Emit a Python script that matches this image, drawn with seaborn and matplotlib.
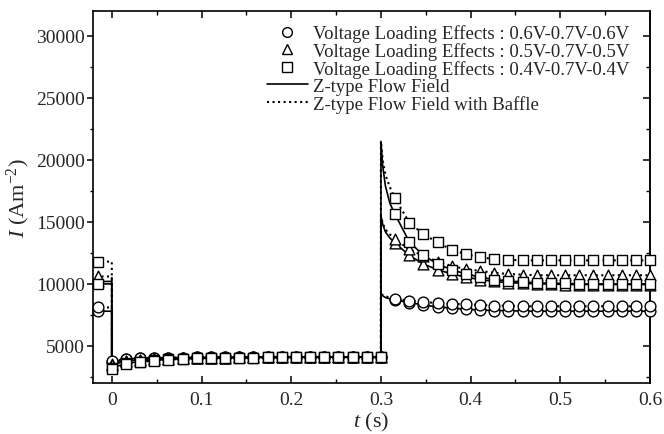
import numpy as np
import pandas as pd
import seaborn as sns
import matplotlib.pyplot as plt
from matplotlib.lines import Line2D
from matplotlib.ticker import FixedLocator, FuncFormatter

# style
sns.set_theme(style="white")
plt.rcParams['font.family'] = ['Liberation Serif', 'DejaVu Serif']
plt.rcParams['mathtext.fontset'] = 'custom'
plt.rcParams['mathtext.rm'] = 'Liberation Serif'
plt.rcParams['mathtext.it'] = 'Liberation Serif:italic'

# time grids (s)
t_pre = [-0.03, -0.0158, 0.0]
t_left = [0.0, 0.0158, 0.0316, 0.0474, 0.0632, 0.0789, 0.0947, 0.1105, 0.1263, 0.1421,
          0.1579, 0.1737, 0.1895, 0.2053, 0.2211, 0.2368, 0.2526, 0.2684, 0.2842, 0.3]
t_peak = [0.3, 0.302, 0.305, 0.31]
t_right = [0.3158, 0.3316, 0.3474, 0.3632, 0.3789, 0.3947, 0.4105, 0.4263, 0.4421, 0.4579,
           0.4737, 0.4895, 0.5053, 0.5211, 0.5368, 0.5526, 0.5684, 0.5842, 0.6]

# current density (A m^-2), s = Z-type flow field, d = with baffle
pre_sq_s, pre_sq_d = 10000, 11800
pre_tri_s, pre_tri_d = 10200, 10600
pre_cir_s, pre_cir_d = 7800, 8100

left_sq_s = [3200, 3600, 3730, 3840, 3910, 3960, 3990, 4020, 4040, 4050,
             4060, 4070, 4080, 4090, 4090, 4100, 4100, 4100, 4100, 4100]
left_sq_d = [3100, 3550, 3700, 3820, 3900, 3950, 3990, 4010, 4030, 4050,
             4060, 4070, 4080, 4090, 4090, 4100, 4100, 4100, 4100, 4100]
left_tri_s = [3550, 3800, 3880, 3940, 3980, 4010, 4030, 4050, 4060, 4070,
              4080, 4090, 4090, 4100, 4100, 4100, 4100, 4100, 4100, 4100]
left_tri_d = [3500, 3780, 3870, 3930, 3970, 4000, 4030, 4050, 4060, 4070,
              4080, 4090, 4090, 4100, 4100, 4100, 4100, 4100, 4100, 4100]
left_cir_s = [3700, 3950, 4000, 4030, 4050, 4060, 4070, 4080, 4090, 4090,
              4100, 4100, 4100, 4100, 4100, 4100, 4100, 4100, 4100, 4100]
left_cir_d = [3750, 3970, 4010, 4040, 4050, 4060, 4070, 4080, 4090, 4090,
              4100, 4100, 4100, 4100, 4100, 4100, 4100, 4100, 4100, 4100]

peak_sq_s = [21500, 19500, 17900, 16500]
peak_sq_d = [21500, 20000, 18800, 17800]
peak_tri_s = [15500, 14800, 14200, 13700]
peak_tri_d = [15500, 14900, 14400, 14000]
peak_cir_s = [9200, 9050, 8900, 8800]
peak_cir_d = [9200, 9100, 9000, 8900]

right_sq_s = [15600, 13400, 12300, 11600, 11150, 10800, 10550, 10350, 10250, 10150,
              10100, 10050, 10050, 10000, 10000, 10000, 10000, 10000, 10000]
right_sq_d = [16900, 14950, 14000, 13350, 12750, 12400, 12150, 12000, 11950, 11900,
              11900, 11900, 11900, 11900, 11900, 11900, 11900, 11900, 11900]
right_tri_s = [13300, 12300, 11600, 11150, 10800, 10550, 10350, 10200, 10100, 10050,
               10000, 10000, 9950, 9950, 9950, 9950, 9950, 9950, 9950]
right_tri_d = [13600, 12800, 12250, 11800, 11450, 11200, 11050, 10900, 10800, 10750,
               10700, 10700, 10700, 10700, 10700, 10700, 10700, 10700, 10700]
right_cir_s = [8700, 8500, 8300, 8150, 8050, 7950, 7900, 7850, 7850, 7800,
               7800, 7800, 7800, 7800, 7800, 7800, 7800, 7800, 7800]
right_cir_d = [8800, 8650, 8550, 8450, 8400, 8350, 8300, 8250, 8250, 8200,
               8200, 8200, 8200, 8200, 8200, 8200, 8200, 8200, 8200]


def build(pre, left, peak, right):
    # line path, in drawing order
    line = pd.DataFrame({
        't': t_pre + t_left + t_peak + t_right,
        'I': [pre] * 3 + left + peak + right,
    })
    marks = pd.DataFrame({
        't': [t_pre[1]] + t_left + t_right,
        'I': [pre] + left + right,
    })
    return line, marks


series = [
    ('o', '-', build(pre_cir_s, left_cir_s, peak_cir_s, right_cir_s)),
    ('o', ':', build(pre_cir_d, left_cir_d, peak_cir_d, right_cir_d)),
    ('^', '-', build(pre_tri_s, left_tri_s, peak_tri_s, right_tri_s)),
    ('^', ':', build(pre_tri_d, left_tri_d, peak_tri_d, right_tri_d)),
    ('s', '-', build(pre_sq_s, left_sq_s, peak_sq_s, right_sq_s)),
    ('s', ':', build(pre_sq_d, left_sq_d, peak_sq_d, right_sq_d)),
]

fig = plt.figure(figsize=(6.64, 4.35), dpi=100)
ax = fig.add_axes([0.140, 0.117, 0.839, 0.855])

for mk, ls, (line, marks) in series:
    sns.lineplot(data=line, x='t', y='I', estimator=None, sort=False, color='black',
                 lw=1.2 if ls == '-' else 1.5, linestyle=ls, ax=ax, zorder=2)
for mk, ls, (line, marks) in series:
    sns.scatterplot(data=marks, x='t', y='I', marker=mk, s=60, facecolor='white',
                    edgecolor='black', linewidth=1.0, ax=ax, zorder=3, clip_on=False)

ax.set_xlim(-0.021, 0.6)
ax.set_ylim(2000, 32000)

xt = [0, 0.1, 0.2, 0.3, 0.4, 0.5, 0.6]
ax.xaxis.set_major_locator(FixedLocator(xt))
ax.xaxis.set_minor_locator(FixedLocator([0.05, 0.15, 0.25, 0.35, 0.45, 0.55]))
ax.xaxis.set_major_formatter(FuncFormatter(lambda v, _: f'{v:g}'))
yt = [5000, 10000, 15000, 20000, 25000, 30000]
ax.yaxis.set_major_locator(FixedLocator(yt))
ax.yaxis.set_minor_locator(FixedLocator([2500, 7500, 12500, 17500, 22500, 27500]))

for sp in ax.spines.values():
    sp.set_visible(True)
    sp.set_color('black')
    sp.set_linewidth(1.2)

ax.tick_params(axis='x', which='both', direction='in', top=True, bottom=True,
               color='black', labelsize=14, pad=6)
ax.tick_params(axis='x', which='major', length=5, width=1.1)
ax.tick_params(axis='x', which='minor', length=3, width=1.0)
ax.tick_params(axis='y', which='both', direction='out', left=True, right=False,
               color='black', labelsize=14, pad=2)
ax.tick_params(axis='y', which='major', length=4, width=1.1)
ax.tick_params(axis='y', which='minor', length=2, width=1.0)

sec = ax.secondary_yaxis('right')
sec.yaxis.set_major_locator(FixedLocator(yt))
sec.yaxis.set_minor_locator(FixedLocator([2500, 7500, 12500, 17500, 22500, 27500]))
sec.tick_params(axis='y', which='both', direction='in', labelright=False, color='black')
sec.tick_params(axis='y', which='major', length=5, width=1.1)
sec.tick_params(axis='y', which='minor', length=3, width=1.0)
sec.spines['right'].set_linewidth(1.2)

ax.set_xlabel(r'$\mathit{t}$ (s)', fontsize=16, labelpad=1)
ax.set_ylabel(r'$\mathit{I}$ (Am$^{-2}$)', fontsize=16, labelpad=3)

handles = [
    Line2D([], [], marker='o', ls='none', mfc='white', mec='black', ms=7, mew=1.0),
    Line2D([], [], marker='^', ls='none', mfc='white', mec='black', ms=7, mew=1.0),
    Line2D([], [], marker='s', ls='none', mfc='white', mec='black', ms=7, mew=1.0),
    Line2D([], [], color='black', lw=1.2),
    Line2D([], [], color='black', lw=1.5, ls=':'),
]
labels = [
    'Voltage Loading Effects : 0.6V-0.7V-0.6V',
    'Voltage Loading Effects : 0.5V-0.7V-0.5V',
    'Voltage Loading Effects : 0.4V-0.7V-0.4V',
    'Z-type Flow Field',
    'Z-type Flow Field with Baffle',
]
ax.legend(handles, labels, loc='upper left', bbox_to_anchor=(0.305, 0.975), frameon=False,
          fontsize=13.5, handlelength=2.2, handletextpad=0.25, labelspacing=0.0,
          borderaxespad=0.0, borderpad=0.2)

plt.savefig('out.png', dpi=100)
